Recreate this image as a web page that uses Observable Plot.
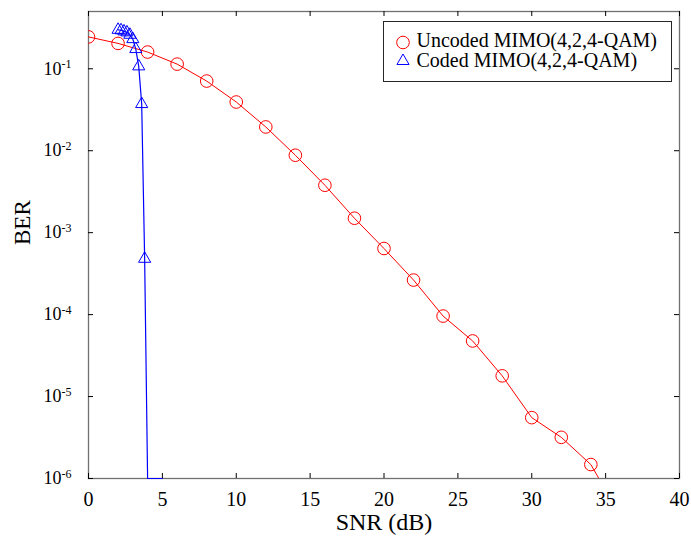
<!DOCTYPE html>
<html>
<head>
<meta charset="utf-8">
<script src="https://cdn.jsdelivr.net/npm/d3@7"></script>
<script src="https://cdn.jsdelivr.net/npm/@observablehq/plot@0.6"></script>
<style>
  html, body { margin: 0; padding: 0; background: #fff; }
  #wrap { position: relative; width: 691px; height: 544px; font-family: "Liberation Serif", "Times New Roman", serif; }
  #legend { position: absolute; left: 383px; top: 21px; }
</style>
</head>
<body>
<div id="wrap"></div>
<script>
// ---- data ----
const snrUncoded = [0, 2, 4, 6, 8, 10, 12, 14, 16, 18, 20, 22, 24, 26, 28, 30, 32, 34, 36];
const berUncoded = [0.245, 0.204, 0.160, 0.114, 0.0708, 0.0393, 0.0195, 0.00881, 0.00379, 0.00150,
                    0.000641, 0.000264, 9.6e-5, 4.77e-5, 1.79e-5, 5.53e-6, 3.18e-6, 1.48e-6, 3.5e-7];
const snrCoded = [2.0, 2.2, 2.4, 2.6, 2.8, 3.0, 3.2, 3.4, 3.6, 3.8, 4.0, 4.2, 4.4, 4.6, 4.8, 5.0];
const berCoded = [0.299, 0.295, 0.286, 0.278, 0.260, 0.230, 0.174, 0.107, 0.0371, 4.8e-4, 0, 0, 0, 0, 0, 0];
const xTicks = [0, 5, 10, 15, 20, 25, 30, 35, 40];
const yTicks = [1e-6, 1e-5, 1e-4, 1e-3, 1e-2, 1e-1];
const seriesNames = ["Uncoded MIMO(4,2,4-QAM)", "Coded MIMO(4,2,4-QAM)"];
const xLabel = "SNR (dB)";
const yLabel = "BER";

// ---- layout ----
const W = 691, H = 544;
const mL = 88, mR = 12, mT = 11, mB = 66;
const plotW = W - mL - mR, plotH = H - mT - mB;
const yDomain = [1e-6, 0.5];
const tickLen = 5;
const serif = "'Liberation Serif', 'Times New Roman', serif";

const uncoded = snrUncoded.map((x, i) => ({x, ber: berUncoded[i]}));
const coded = snrCoded.map((x, i) => ({x, ber: berCoded[i]}));
const codedY = d => d.ber > 0 ? d.ber : yDomain[0];

const chart = Plot.plot({
  width: W, height: H,
  marginLeft: mL, marginRight: mR, marginTop: mT, marginBottom: mB,
  style: {fontFamily: serif, background: "#fff", color: "#000"},
  x: {domain: [0, 40]},
  y: {type: "log", domain: yDomain},
  marks: [
    Plot.axisX({ticks: xTicks, tickSize: 0, tickPadding: 13, fontSize: 20, fontFamily: serif, label: null, tickFormat: d => String(d)}),
    Plot.axisY({ticks: yTicks, tickSize: 0, tickPadding: 17, fontSize: 18, fontFamily: serif, label: null,
                tickFormat: d => "10^" + Math.round(Math.log10(d))}),
    Plot.frame({stroke: "#707070", strokeWidth: 1.3}),
    // inward ticks on all four sides
    Plot.ruleX(xTicks, {x: d => d, insetTop: plotH - tickLen, stroke: "#000", strokeWidth: 1}),
    Plot.ruleX(xTicks, {x: d => d, insetBottom: plotH - tickLen, stroke: "#000", strokeWidth: 1}),
    Plot.ruleY(yTicks, {y: d => d, insetRight: plotW - tickLen, stroke: "#000", strokeWidth: 1}),
    Plot.ruleY(yTicks, {y: d => d, insetLeft: plotW - tickLen, stroke: "#000", strokeWidth: 1}),
    // series
    Plot.line(uncoded, {x: "x", y: "ber", stroke: "#ff0000", strokeWidth: 1, clip: true}),
    Plot.dot(uncoded, {x: "x", y: "ber", r: 6.3, stroke: "#ff0000", strokeWidth: 1, fill: "none", clip: true}),
    Plot.line(coded, {x: "x", y: codedY, stroke: "#0000ff", strokeWidth: 1.2}),
    Plot.dot(coded.filter(d => d.ber > 0), {x: "x", y: "ber", symbol: "triangle", r: 4.5, stroke: "#0000ff", strokeWidth: 1, fill: "none", clip: true}),
    // axis titles
    Plot.text([xLabel], {text: d => d, frameAnchor: "bottom", dy: 51, fontSize: 24, fontFamily: serif, fill: "#000"}),
    Plot.text([yLabel], {text: d => d, frameAnchor: "left", dx: -66, rotate: -90, fontSize: 23, fontFamily: serif, fill: "#000"})
  ]
});

// superscript exponents on the y tick labels
d3.select(chart).selectAll('g[aria-label="y-axis tick label"] text').each(function() {
  const t = d3.select(this);
  const s = t.text();
  const parts = s.split("^");
  if (parts.length === 2) {
    t.text(parts[0]);
    t.append("tspan").attr("dy", "-0.55em").attr("font-size", "12px").text(parts[1]);
  }
});

const wrap = document.getElementById("wrap");
wrap.appendChild(chart);

// legend
const lw = 289, lh = 61;
const leg = d3.create("svg").attr("id", "legend").attr("width", lw).attr("height", lh)
  .style("font-family", serif);
leg.append("rect").attr("x", 0.5).attr("y", 0.5).attr("width", lw - 1).attr("height", lh - 1)
  .attr("fill", "#fff").attr("stroke", "#262626").attr("stroke-width", 1);
const rows = [
  {name: seriesNames[0], color: "#ff0000", sym: d3.symbolCircle, r: 6.3},
  {name: seriesNames[1], color: "#0000ff", sym: d3.symbolTriangle, r: 4.5}
];
rows.forEach((row, i) => {
  const cy = 21.5 + i * 18.5;
  leg.append("path")
    .attr("transform", `translate(20,${cy})`)
    .attr("d", d3.symbol(row.sym, Math.PI * row.r * row.r)())
    .attr("fill", "none").attr("stroke", row.color).attr("stroke-width", 1);
  leg.append("text").attr("x", 33.5).attr("y", 26 + i * 20).attr("font-size", 20).attr("fill", "#000").text(row.name);
});
wrap.appendChild(leg.node());
</script>
</body>
</html>
